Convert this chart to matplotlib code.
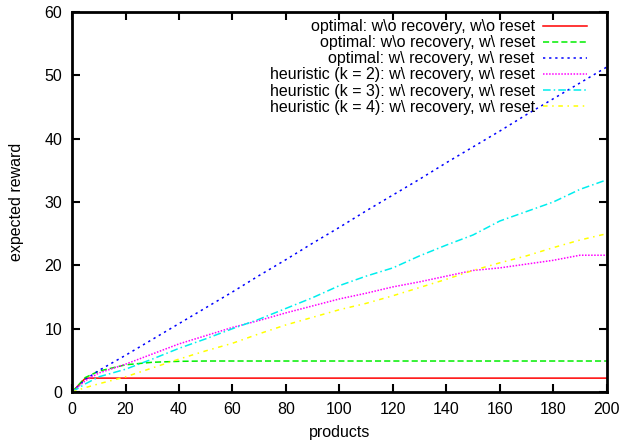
import matplotlib.pyplot as plt

plt.rcParams['font.family'] = ['Liberation Sans', 'DejaVu Sans']
plt.rcParams['font.size'] = 11.5

products = [0, 5, 10, 20, 30, 40, 50, 60, 70, 80, 90, 100,
            110, 120, 130, 140, 150, 160, 170, 180, 190, 200]

opt_norec_noreset = [0, 2.2, 2.2, 2.2, 2.2, 2.2, 2.2, 2.2, 2.2, 2.2, 2.2, 2.2,
                     2.2, 2.2, 2.2, 2.2, 2.2, 2.2, 2.2, 2.2, 2.2, 2.2]
opt_norec_reset = [0, 2.3, 3.3, 4.3, 4.7, 4.85, 4.9, 4.9, 4.9, 4.9, 4.9, 4.9,
                   4.9, 4.9, 4.9, 4.9, 4.9, 4.9, 4.9, 4.9, 4.9, 4.9]
opt_rec_reset = [0, 2.0, 3.4, 5.8, 8.3, 10.8, 13.3, 15.8, 18.4, 20.9, 23.5, 26.0,
                 28.6, 31.1, 33.6, 36.2, 38.7, 41.2, 43.8, 46.3, 48.8, 51.3]
heur_k2 = [0, 1.8, 3.0, 4.4, 6.0, 7.6, 8.9, 10.2, 11.3, 12.5, 13.6, 14.7,
           15.6, 16.6, 17.4, 18.3, 19.2, 19.6, 20.2, 20.8, 21.6, 21.6]
heur_k3 = [0, 1.3, 2.4, 3.6, 5.2, 6.9, 8.4, 10.0, 11.5, 13.2, 14.9, 16.8,
           18.3, 19.6, 21.5, 23.2, 24.8, 27.0, 28.5, 30.0, 32.0, 33.5]
heur_k4 = [0, 0.7, 1.3, 2.4, 3.8, 5.2, 6.5, 7.7, 9.2, 10.6, 11.8, 13.0,
           14.0, 15.2, 16.5, 17.8, 19.2, 20.4, 21.5, 22.8, 24.0, 25.0]

fig = plt.figure(figsize=(6.21, 4.44), dpi=100)
ax = fig.add_axes([0.116, 0.117, 0.861, 0.856])

ax.plot(products, opt_norec_noreset, color='#ff0000', lw=1.1, ls='-',
        label='optimal: w\\o recovery, w\\o reset')
ax.plot(products, opt_norec_reset, color='#00ee00', lw=1.1, ls=(0, (4, 2)),
        label='optimal: w\\o recovery, w\\ reset')
ax.plot(products, opt_rec_reset, color='#0000ff', lw=1.1, ls=(0, (1.5, 2.5)),
        label='optimal: w\\ recovery, w\\ reset')
ax.plot(products, heur_k2, color='#ff00ff', lw=1.1, ls=(0, (1, 1)),
        label='heuristic (k = 2): w\\ recovery, w\\ reset')
ax.plot(products, heur_k3, color='#00eeee', lw=1.1, ls=(0, (5, 2, 1, 2)),
        label='heuristic (k = 3): w\\ recovery, w\\ reset')
ax.plot(products, heur_k4, color='#ffff00', lw=1.1, ls=(0, (3, 3, 1, 3)),
        label='heuristic (k = 4): w\\ recovery, w\\ reset')

ax.set_xlim(0, 200)
ax.set_ylim(0, 60)
ax.set_xticks(range(0, 201, 20))
ax.set_yticks(range(0, 61, 10))
ax.tick_params(direction='in', length=6, width=1.5, top=True, right=True, pad=7)
for s in ax.spines.values():
    s.set_linewidth(2)

ax.set_xlabel('products', labelpad=6)
ax.set_ylabel('expected reward', labelpad=15)

ax.legend(loc='upper right', bbox_to_anchor=(0.976, 0.998), frameon=False,
          markerfirst=False, handlelength=2.8, handletextpad=0.5,
          labelspacing=0.07, borderaxespad=0.0, fontsize=11.5)

fig.savefig('out.png', dpi=100)
